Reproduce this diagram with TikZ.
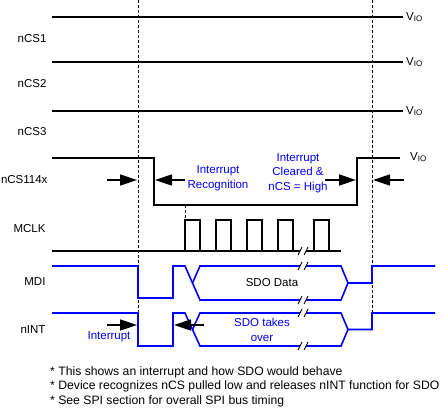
\documentclass[tikz,border=0pt]{standalone}
\usepackage{fontspec}
\setmainfont{Liberation Sans}
\usetikzlibrary{arrows.meta}

\tikzset{
        sig/.style={line width=1.6pt},
        bussig/.style={line width=1.6pt, blue},
        guide/.style={dashed, dash pattern=on 3pt off 2pt, line width=0.9pt},
        dimarrow/.style={-{Triangle[length=17pt,width=11pt]}, line width=1.5pt},
        signame/.style={anchor=east, font=\fontsize{11.5}{14}\selectfont},
        violbl/.style={anchor=west, font=\fontsize{11.5}{14}\selectfont, inner sep=1pt},
        bluenote/.style={blue, align=center, font=\fontsize{11.5}{14.5}\selectfont, inner sep=0pt},
        notes/.style={anchor=north west, align=left, font=\fontsize{12.2}{14.5}\selectfont, inner sep=0pt}
}

\newcommand{\brkmark}[2]{%
        \fill[white] (#1-3,#2-5) rectangle (#1+3,#2+5);
        \draw[line width=0.9pt] (#1-5,#2+4) -- (#1-1,#2-4) (#1+1,#2+4) -- (#1+5,#2-4);
}

\begin{document}
\begin{tikzpicture}[x=1pt, y=-1pt]
        \useasboundingbox (0,0) rectangle (445,408);

        \foreach \n/\y/\t in {1/17/39, 2/62/84, 3/111/132}
        {
                \draw[sig] (52,\y) -- (403,\y);
                \node[violbl] (vio\n) at (405,\y) {V\textsubscript{IO}};
                \node[signame] (cs\n) at (50,\t) {nCS\n};
        }

        \draw[guide] (138,0) -- (138,313);
        \draw[guide] (372,0) -- (372,313);
        \draw[guide] (185,205) -- (185,220);

        \draw[sig] (52,158) -- (154,158) -- (154,205) -- (357,205) -- (357,158) -- (400,158);
        \node[violbl] (vio4) at (409,157) {V\textsubscript{IO}};
        \node[signame] (cs114) at (51,180) {nCS114x};
        \draw[dimarrow] (107,180) -- (137,180);
        \draw[dimarrow] (185,180) -- (155,180);
        \draw[dimarrow] (325,180) -- (356,180);
        \draw[dimarrow] (404,180) -- (373,180);
        \node[bluenote] (recog) at (218,178) {Interrupt\\Recognition};
        \node[bluenote] (clear) at (298,173) {Interrupt\\Cleared \&\\nCS = High};

        \node[signame] (mclk) at (49,229) {MCLK};
        \draw[sig] (52,251) -- (341,251);
        \foreach \r/\f in {185/200, 216/231, 247/262, 278/293, 314/329}
        {
                \draw[sig] (\r,251) -- (\r,220) -- (\f,220) -- (\f,251);
        }
        \brkmark{303}{251}

        \node[signame] (mdi) at (49,282) {MDI};
        \draw[bussig] (52,266) -- (138,266) -- (138,298) -- (173,298) -- (173,266) -- (185,266)
                -- (200,300) -- (341,300) -- (348,283) -- (372,283) -- (372,266) -- (435,266);
        \draw[bussig] (192.5,283) -- (200,266) -- (341,266) -- (348,283);
        \node (sdo) at (272,283) {\fontsize{11.5}{14}\selectfont SDO Data};
        \brkmark{303}{266}
        \brkmark{303}{300}

        \node[signame] (nint) at (49,330) {nINT};
        \draw[bussig] (52,313) -- (138,313) -- (138,346) -- (173,346) -- (173,313) -- (185,313)
                -- (200,346) -- (341,346) -- (348,329.5) -- (372,329.5) -- (372,313) -- (435,313);
        \draw[bussig] (192.5,329.5) -- (200,313) -- (341,313) -- (348,329.5);
        \brkmark{303}{313}
        \brkmark{303}{346}
        \draw[dimarrow] (107,325) -- (137,325);
        \draw[dimarrow] (204,325) -- (174,325);
        \node[bluenote] (intr) at (109,337) {Interrupt};
        \node[bluenote] (takes) at (262,330) {SDO takes\\over};

        \node[notes] (fnote) at (50,366) {* This shows an interrupt and how SDO would behave\\
                * Device recognizes nCS pulled low and releases nINT function for SDO\\
                * See SPI section for overall SPI bus timing};

\end{tikzpicture}
\end{document}
